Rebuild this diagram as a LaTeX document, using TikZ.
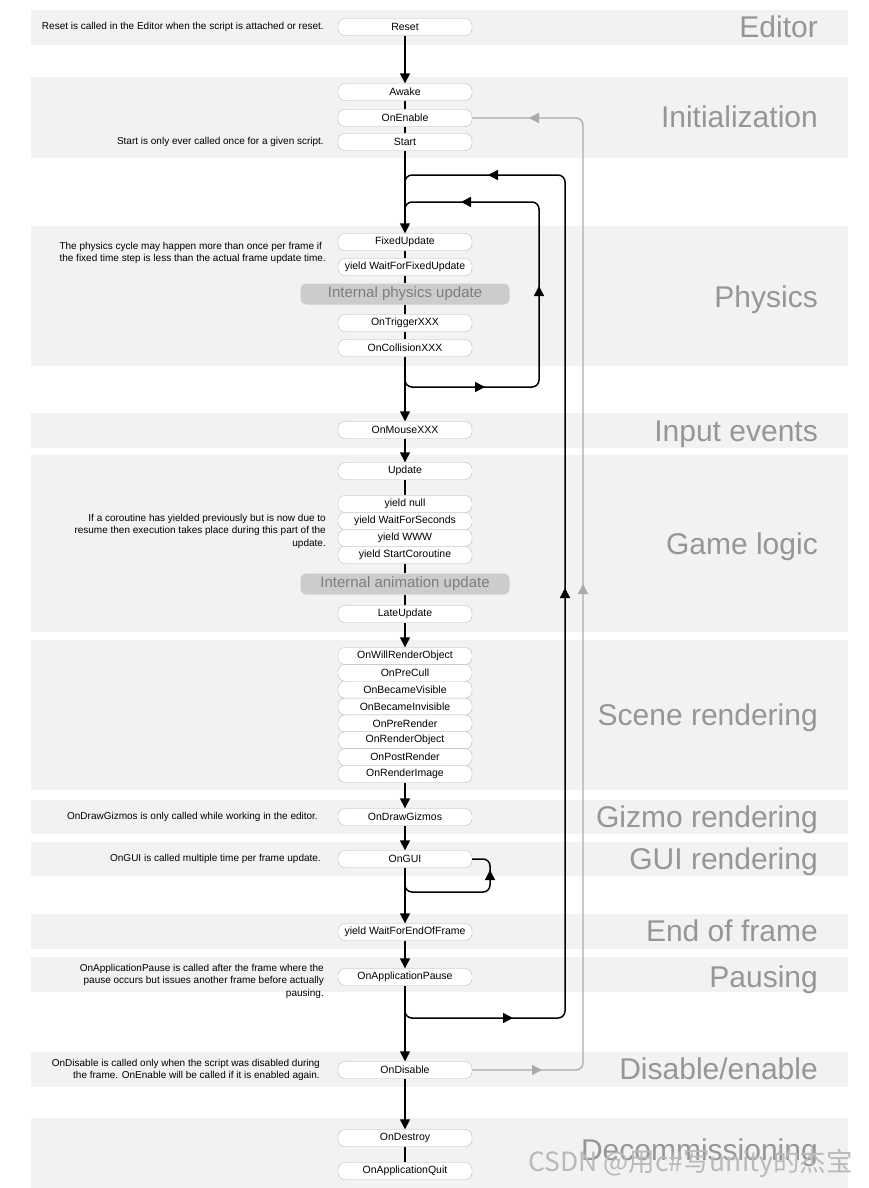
\documentclass[tikz,border=0pt]{standalone}
\usepackage{fontspec}
\setmainfont{Liberation Sans}
\newfontfamily\cjkfont{Noto Sans CJK SC}
\usetikzlibrary{arrows.meta}

\definecolor{bandgray}{RGB}{242,242,242}
\definecolor{labelgray}{RGB}{150,150,150}
\definecolor{loopgray}{RGB}{170,170,170}
\definecolor{boxline}{RGB}{185,185,185}
\definecolor{innerfill}{RGB}{204,204,204}
\definecolor{innertext}{RGB}{125,125,125}

\begin{document}
\begin{tikzpicture}[
		x=1pt, y=-1pt,
		>={Triangle[length=10pt,width=10pt]},
		phase/.style={anchor=base east, inner sep=0pt, text=labelgray, font=\fontsize{30}{32}\selectfont},
		fn/.style={draw=boxline, fill=white, rounded corners=7pt, minimum width=134pt, minimum height=17pt, inner sep=0pt, font=\fontsize{10.5}{12}\selectfont},
		internal/.style={fill=innerfill, rounded corners=6pt, minimum width=209pt, minimum height=21pt, inner sep=0pt, text=innertext, font=\fontsize{15}{17}\selectfont},
		note/.style={anchor=east, inner sep=0pt, font=\fontsize{10}{12.5}\selectfont},
		flow/.style={line width=1.5pt},
		back/.style={line width=1.5pt, rounded corners=7pt},
		reenable/.style={line width=1.3pt, color=loopgray, rounded corners=7pt},
		graytip/.style={line width=1.3pt, color=loopgray, ->}
	]
		\useasboundingbox (0,0) rectangle (868,1188);

		%bands
		\foreach \top/\bot in {10/45, 77/158, 226/366, 413/448, 455/632, 640/790, 800/834, 842/876, 914/949, 957/992, 1052/1087, 1118/1188} {
			\fill[bandgray] (31,\top) rectangle (848,\bot);
		}

		%phase labels
		\node[phase] (editor) at (818,38) {Editor};
		\node[phase] (init) at (818,128) {Initialization};
		\node[phase] (physics) at (818,307) {Physics};
		\node[phase] (input) at (818,441) {Input events};
		\node[phase] (gamelogic) at (818,554) {Game logic};
		\node[phase] (scene) at (818,725) {Scene rendering};
		\node[phase] (gizmo) at (818,827) {Gizmo rendering};
		\node[phase] (gui) at (818,869) {GUI rendering};
		\node[phase] (endframe) at (818,941) {End of frame};
		\node[phase] (pausing) at (818,987) {Pausing};
		\node[phase] (disable) at (818,1079) {Disable/enable};
		\node[phase] (decomm) at (818,1160) {Decommissioning};

		%editor + initialization
		\node[fn] (reset) at (405,27) {Reset};
		\node[fn] (awake) at (405,92) {Awake};
		\node[fn] (onenable) at (405,118) {OnEnable};
		\node[fn] (start) at (405,142) {Start};

		%physics
		\node[fn] (fixedupdate) at (405,242) {FixedUpdate};
		\node[fn] (waitfixed) at (405,267) {yield WaitForFixedUpdate};
		\node[internal] (physupdate) at (405,294) {Internal physics update};
		\node[fn] (ontrigger) at (405,323) {OnTriggerXXX};
		\node[fn] (oncollision) at (405,348) {OnCollisionXXX};

		%input + game logic
		\node[fn] (onmouse) at (405,430) {OnMouseXXX};
		\node[fn] (update) at (405,471) {Update};
		\foreach \name/\txt [count=\i from 0] in {yieldnull/yield null, yieldsec/yield WaitForSeconds, yieldwww/yield WWW, yieldco/yield StartCoroutine} {
			\node[fn] (\name) at (405,504+\i*17) {\txt};
		}
		\node[internal] (animupdate) at (405,584) {Internal animation update};
		\node[fn] (lateupdate) at (405,614) {LateUpdate};

		%scene rendering
		\foreach \name/\txt [count=\i from 0] in {willrender/OnWillRenderObject, preculling/OnPreCull, visible/OnBecameVisible, invisible/OnBecameInvisible, prerender/OnPreRender, renderobject/OnRenderObject, postrender/OnPostRender, renderimage/OnRenderImage} {
			\node[fn] (\name) at (405,656+\i*16.85) {\txt};
		}

		%gizmo, gui, end of frame, pausing
		\node[fn] (drawgizmos) at (405,817) {OnDrawGizmos};
		\node[fn] (ongui) at (405,859) {OnGUI};
		\node[fn] (waitend) at (405,932) {yield WaitForEndOfFrame};
		\node[fn] (apppause) at (405,977) {OnApplicationPause};

		%disable + decommissioning
		\node[fn] (ondisable) at (405,1070) {OnDisable};
		\node[fn] (ondestroy) at (405,1138) {OnDestroy};
		\node[fn] (appquit) at (405,1171) {OnApplicationQuit};

		%notes
		\node[note] (resetnote) at (324,27) {Reset is called in the Editor when the script is attached or reset.};
		\node[note] (startnote) at (324,142) {Start is only ever called once for a given script.};
		\node[note, align=left] (physnote) at (326,253) {The physics cycle may happen more than once per frame if\\the fixed time step is less than the actual frame update time.};
		\node[note, align=right] (coroutinenote) at (326,531) {If a coroutine has yielded previously but is now due to\\resume then execution takes place during this part of the\\update.};
		\node[note] (gizmonote) at (318,817) {OnDrawGizmos is only called while working in the editor.};
		\node[note] (guinote) at (321,859) {OnGUI is called multiple time per frame update.};
		\node[note, align=right] (pausenote) at (324,981) {OnApplicationPause is called after the frame where the\\pause occurs but issues another frame before actually\\pausing.};
		\node[note, align=right] (disablenote) at (320,1070) {OnDisable is called only when the script was disabled during\\the frame. OnEnable will be called if it is enabled again.};

		%main flow
		\draw[flow,->] (reset) -- (awake);
		\draw[flow] (awake) -- (onenable);
		\draw[flow] (onenable) -- (start);
		\draw[flow,->] (start) -- (fixedupdate);
		\draw[flow] (fixedupdate) -- (waitfixed);
		\draw[flow] (waitfixed) -- (physupdate);
		\draw[flow] (physupdate) -- (ontrigger);
		\draw[flow] (ontrigger) -- (oncollision);
		\draw[flow,->] (oncollision) -- (onmouse);
		\draw[flow,->] (onmouse) -- (update);
		\draw[flow] (update) -- (yieldnull);
		\draw[flow] (yieldco) -- (animupdate);
		\draw[flow] (animupdate) -- (lateupdate);
		\draw[flow,->] (lateupdate) -- (willrender);
		\draw[flow,->] (renderimage) -- (drawgizmos);
		\draw[flow,->] (drawgizmos) -- (ongui);
		\draw[flow,->] (ongui) -- (waitend);
		\draw[flow,->] (waitend) -- (apppause);
		\draw[flow,->] (apppause) -- (ondisable);
		\draw[flow,->] (ondisable) -- (ondestroy);
		\draw[flow] (ondestroy) -- (appquit);

		%physics loop
		\coordinate (pl0) at (405,375);
		\coordinate (pl1) at (485,387);
		\coordinate (pl2) at (539,286);
		\coordinate (pl3) at (461,202);
		\coordinate (pl4) at (405,214);
		\draw[back] (pl0) |- (pl1) -| (pl2) |- (pl3) -| (pl4);
		\draw[flow,->] (pl1) ++(-2,0) -- (pl1);
		\draw[flow,->] (pl2) ++(0,2) -- (pl2);
		\draw[flow,->] (pl3) ++(2,0) -- (pl3);

		%frame loop
		\coordinate (fl0) at (405,1004);
		\coordinate (fl1) at (513,1018);
		\coordinate (fl2) at (565,588);
		\coordinate (fl3) at (488,175);
		\coordinate (fl4) at (405,189);
		\draw[back] (fl0) |- (fl1) -| (fl2) |- (fl3) -| (fl4);
		\draw[flow,->] (fl1) ++(-2,0) -- (fl1);
		\draw[flow,->] (fl2) ++(0,2) -- (fl2);
		\draw[flow,->] (fl3) ++(2,0) -- (fl3);

		%gui loop
		\coordinate (gl0) at (405,878);
		\coordinate (gl1) at (490,892);
		\coordinate (gl2) at (490,870);
		\draw[back] (gl0) |- (gl1) |- (ongui.east);
		\draw[flow,->] (gl2) ++(0,2) -- (gl2);

		%disable -> enable
		\coordinate (rl1) at (542,1070);
		\coordinate (rl2) at (583,584);
		\coordinate (rl3) at (529,118);
		\draw[reenable] (ondisable.east) -| (rl2) |- (onenable.east);
		\draw[graytip] (rl1) ++(-2,0) -- (rl1);
		\draw[graytip] (rl2) ++(0,2) -- (rl2);
		\draw[graytip] (rl3) ++(2,0) -- (rl3);

		%watermark
		\node[anchor=west, inner sep=0pt, text=gray!55, font=\fontsize{26.5}{28}\cjkfont] (watermark) at (528,1163) {CSDN @用c\#写unity的杰宝};
	\end{tikzpicture}
\end{document}
